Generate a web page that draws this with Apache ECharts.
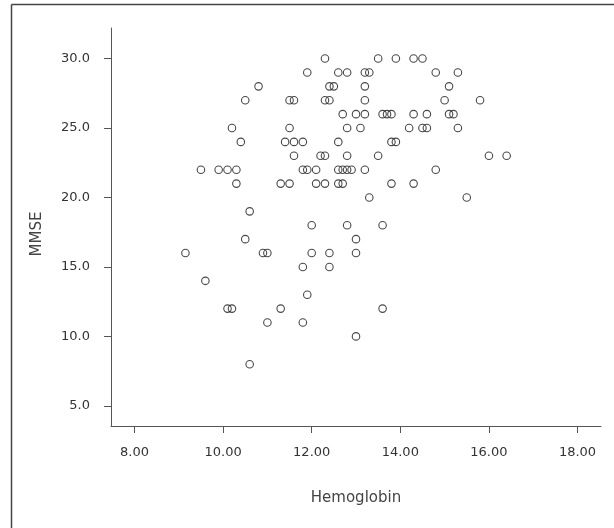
<!DOCTYPE html>
<html><head><meta charset="utf-8">
<script src="https://cdn.jsdelivr.net/npm/echarts@6/dist/echarts.min.js"></script>
<style>html,body{margin:0;padding:0;background:#fff}#c{width:614px;height:528px}</style>
</head><body><div id="c"></div><script>
// Hemoglobin (x) and MMSE (y)
const hemoglobin = [
  12.3, 13.5, 13.9, 14.3, 14.5,
  11.9, 12.6, 12.8, 13.2, 13.3, 14.8, 15.3,
  10.8, 12.4, 12.5, 13.2, 15.1,
  10.5, 11.5, 11.6, 12.3, 12.4, 13.2, 15.0, 15.8,
  12.7, 13.0, 13.2, 13.6, 13.7, 13.8, 14.3, 14.6, 15.1, 15.2,
  10.2, 11.5, 12.8, 13.1, 14.2, 14.5, 14.6, 15.3,
  10.4, 11.4, 11.6, 11.8, 12.6, 13.8, 13.9,
  11.6, 12.2, 12.3, 12.8, 13.5, 16.0, 16.4,
  9.5, 9.9, 10.1, 10.3, 11.8, 11.9, 12.1, 12.6, 12.7, 12.8, 12.9, 13.2, 14.8,
  10.3, 11.3, 11.5, 12.1, 12.3, 12.6, 12.7, 13.8, 14.3,
  13.3, 15.5,
  10.6,
  12.0, 12.8, 13.6,
  10.5, 13.0,
  9.15, 10.9, 11.0, 12.0, 12.4, 13.0,
  11.8, 12.4,
  9.6,
  11.9,
  10.1, 10.2, 11.3, 13.6,
  11.0, 11.8,
  13.0,
  10.6
];
const mmse = [
  30, 30, 30, 30, 30,
  29, 29, 29, 29, 29, 29, 29,
  28, 28, 28, 28, 28,
  27, 27, 27, 27, 27, 27, 27, 27,
  26, 26, 26, 26, 26, 26, 26, 26, 26, 26,
  25, 25, 25, 25, 25, 25, 25, 25,
  24, 24, 24, 24, 24, 24, 24,
  23, 23, 23, 23, 23, 23, 23,
  22, 22, 22, 22, 22, 22, 22, 22, 22, 22, 22, 22, 22,
  21, 21, 21, 21, 21, 21, 21, 21, 21,
  20, 20,
  19,
  18, 18, 18,
  17, 17,
  16, 16, 16, 16, 16, 16,
  15, 15,
  14,
  13,
  12, 12, 12, 12,
  11, 11,
  10,
  8
];
const xTicks = [8, 10, 12, 14, 16, 18];
const yTicks = [5, 10, 15, 20, 25, 30];
const xName = 'Hemoglobin';
const yName = 'MMSE';

const points = hemoglobin.map((h, i) => [h, mmse[i]]);
const FONT = 'DejaVu Sans';
const axisCommon = {
  axisLine: { show: true, onZero: false, lineStyle: { color: '#555', width: 1 } },
  axisTick: { show: true, inside: false, length: 7, lineStyle: { color: '#555', width: 1 } },
  splitLine: { show: false },
  nameLocation: 'middle'
};
const chart = echarts.init(document.getElementById('c'), null, { renderer: 'canvas' });
chart.setOption({
  animation: false,
  backgroundColor: '#fff',
  grid: { left: 111, right: 13, top: 28, bottom: 102, containLabel: false },
  xAxis: Object.assign({}, axisCommon, {
    type: 'value', min: 7.47, max: 18.53,
    name: xName, nameGap: 65,
    nameTextStyle: { fontFamily: FONT, fontSize: 15, color: '#444' },
    axisTick: Object.assign({}, axisCommon.axisTick, { customValues: xTicks }),
    axisLabel: { customValues: xTicks, margin: 20, fontFamily: FONT, fontSize: 13, color: '#333',
      formatter: v => v.toFixed(2) }
  }),
  yAxis: Object.assign({}, axisCommon, {
    type: 'value', min: 3.55, max: 32.2,
    name: yName, nameGap: 66,
    nameTextStyle: { fontFamily: FONT, fontSize: 15, color: '#444', padding: [0, 14, 0, 0] },
    axisTick: Object.assign({}, axisCommon.axisTick, { customValues: yTicks }),
    axisLabel: { customValues: yTicks, margin: 21, fontFamily: FONT, fontSize: 13, color: '#333',
      formatter: v => v.toFixed(1) }
  }),
  graphic: [
    { type: 'line', shape: { x1: 11.5, y1: 4.5, x2: 11.5, y2: 528 }, style: { stroke: '#444', lineWidth: 1.5 } },
    { type: 'line', shape: { x1: 11.5, y1: 4.5, x2: 614, y2: 4.5 }, style: { stroke: '#444', lineWidth: 1.5 } }
  ],
  series: [{
    type: 'scatter',
    data: points,
    symbol: 'circle',
    symbolSize: 7.5,
    itemStyle: { color: 'rgba(0,0,0,0)', borderColor: '#1a1a1a', borderWidth: 1.1 }
  }]
});
</script></body></html>
